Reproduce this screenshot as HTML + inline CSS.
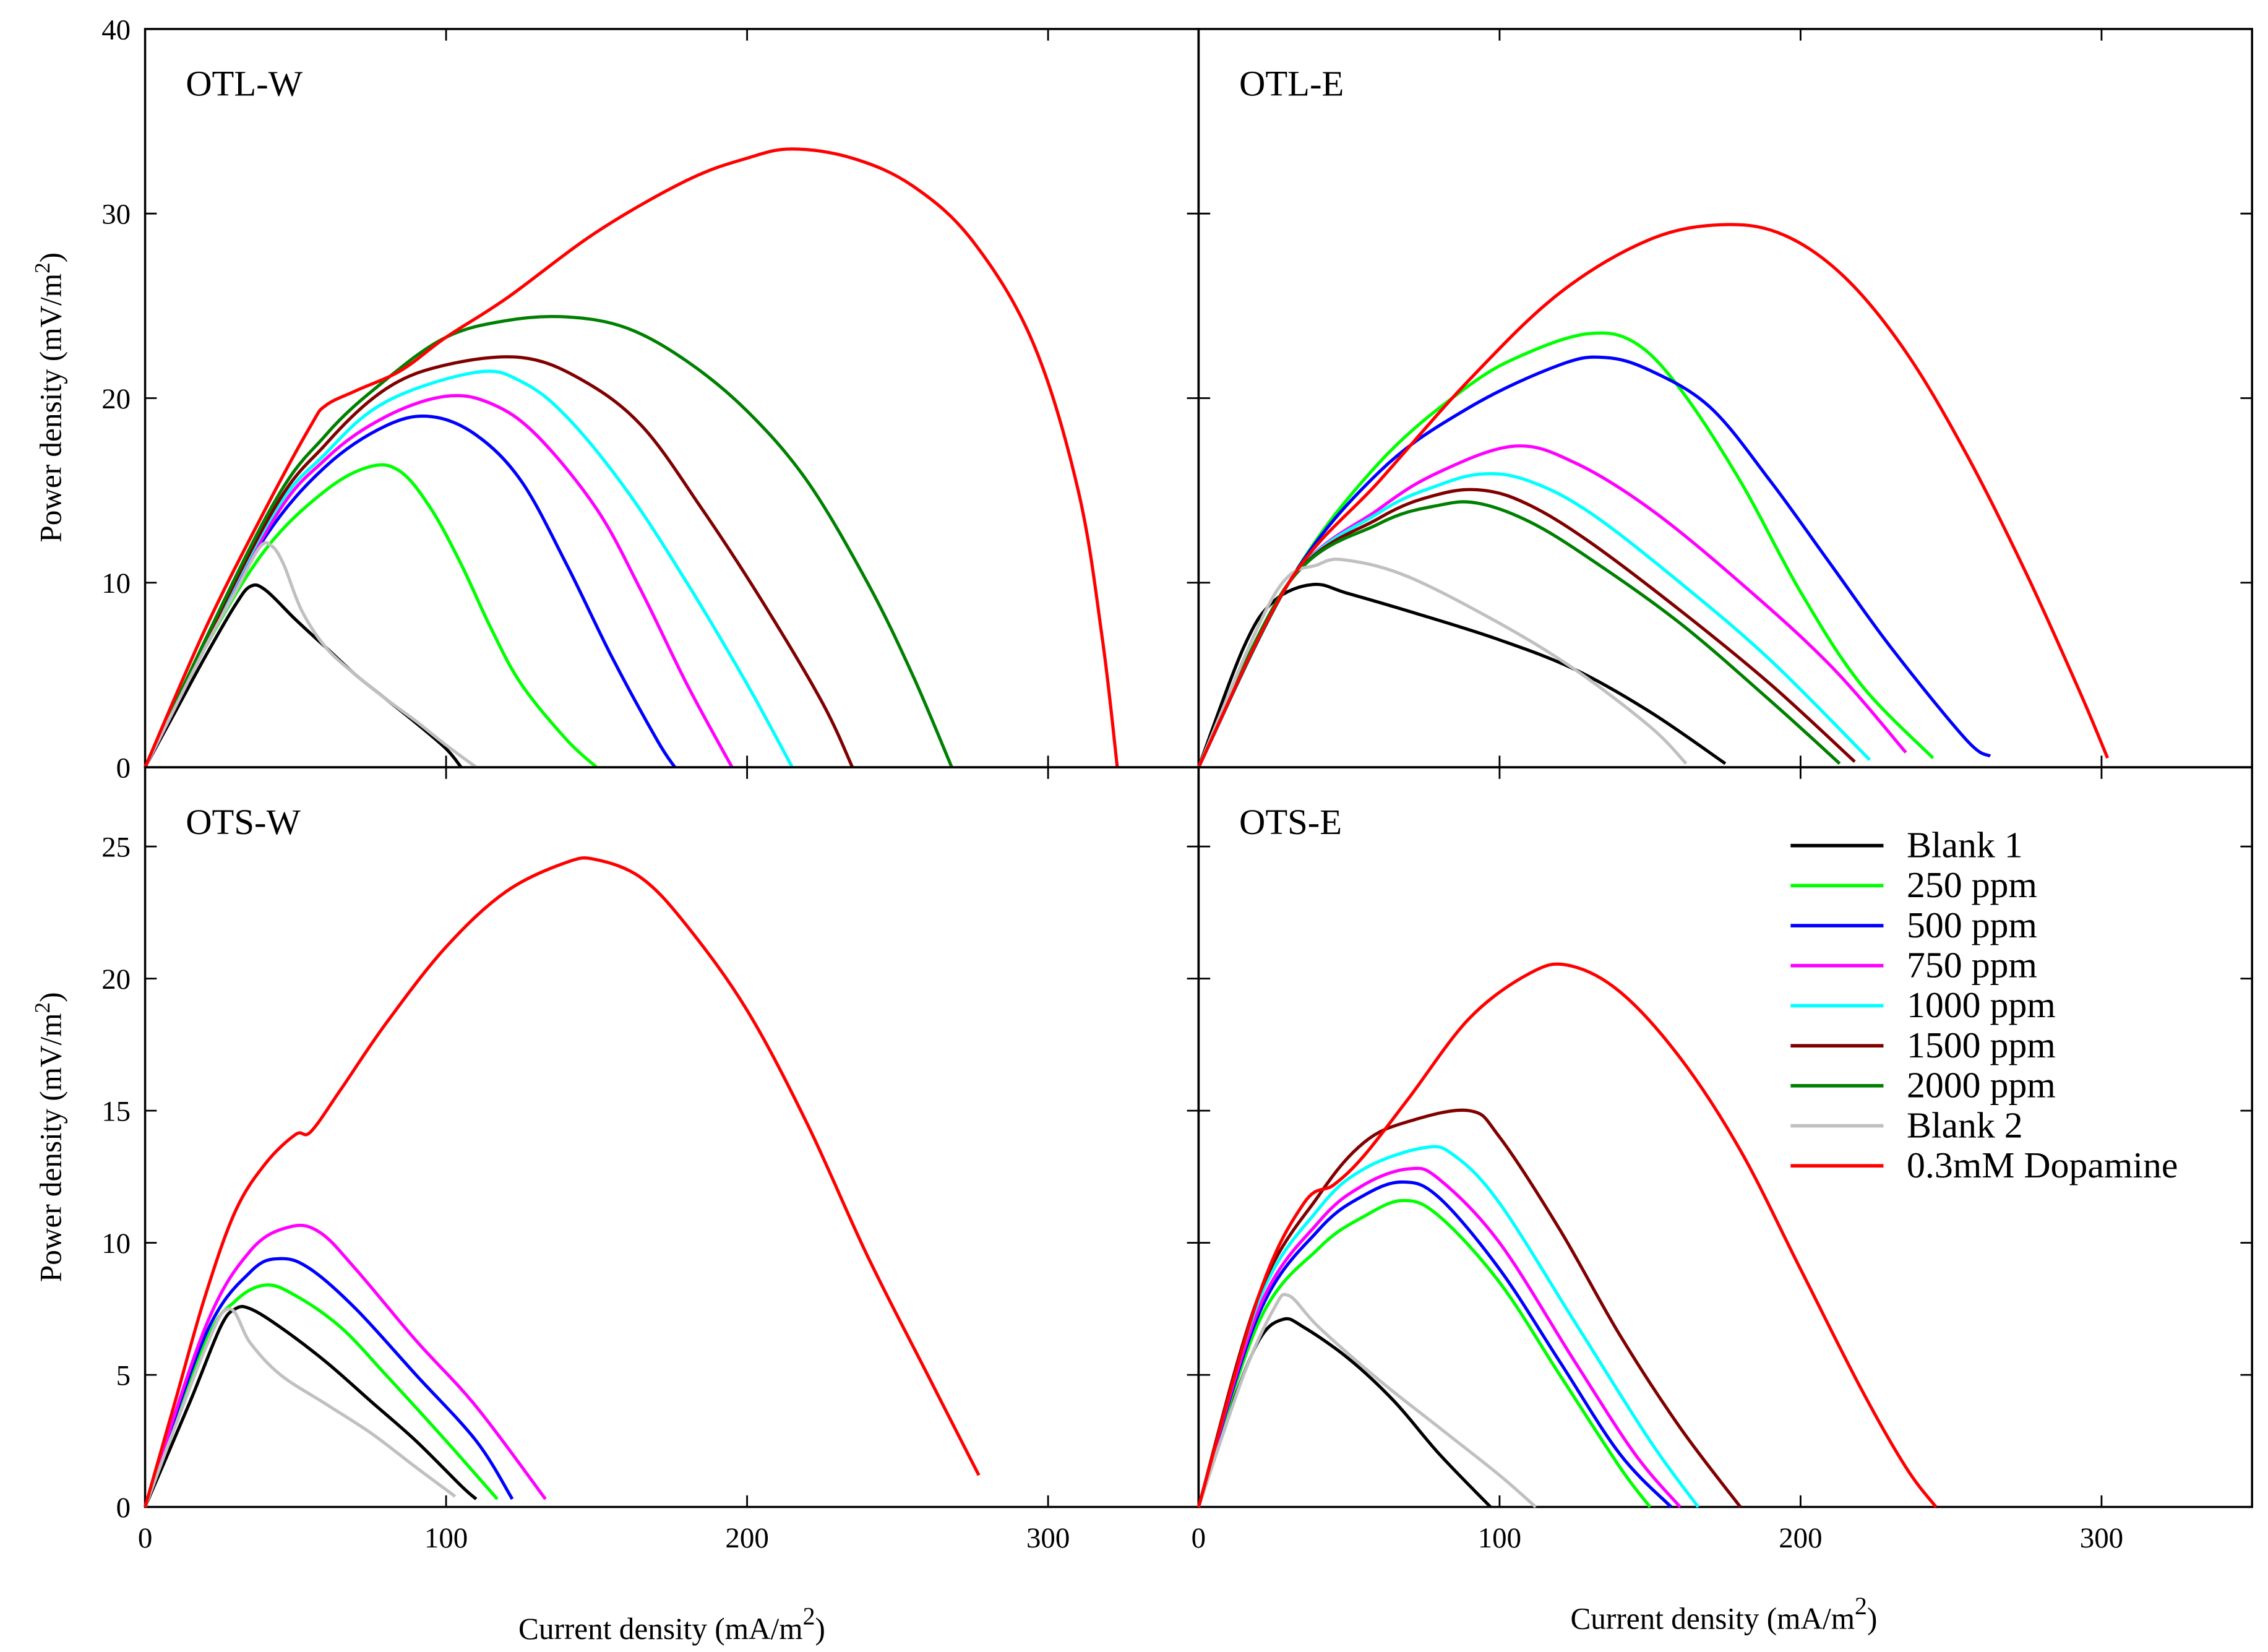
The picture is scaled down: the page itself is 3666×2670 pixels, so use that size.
<!DOCTYPE html>
<html><head><meta charset="utf-8">
<style>
html,body{margin:0;padding:0;background:#fff;}
svg{display:block;}
text{font-family:"Liberation Serif",serif;fill:#000;}
</style></head>
<body>
<svg id="chart" width="3666" height="2670" viewBox="0 0 1563 1139" preserveAspectRatio="none" xmlns="http://www.w3.org/2000/svg">
<rect x="0" y="0" width="1563" height="1139" fill="#fff"/>
<g id="marks"></g>
</svg>
<script>
// ---- data (current density mA/m2, power density mV/m2) ----
const seriesNames = ["Blank 1","250 ppm","500 ppm","750 ppm","1000 ppm","1500 ppm","2000 ppm","Blank 2","0.3mM Dopamine"];
const seriesColors = ["#000000","#00ff00","#0000ff","#ff00ff","#00ffff","#800000","#008000","#c0c0c0","#ff0000"];
const xTicks = [0,100,200,300];
const yTicksTop = [0,10,20,30,40];
const yTicksBottom = [0,5,10,15,20,25];

// OTL-W
const otlwBlank1X=[0,10,20,30,35,40,50,60,70,80,90,100,105];
const otlwBlank1Y=[0,3,6,8.8,9.8,9.6,8,6.5,5,3.7,2.4,1,0];
const otlwBlank2X=[0,20,30,38,42,46,52,60,70,80,90,100,110];
const otlwBlank2Y=[0,6.5,9.5,11.9,12,11,8.5,6.5,5,3.7,2.5,1.2,0];
const otlw250X=[0,20,40,60,75,85,95,105,115,125,140,150];
const otlw250Y=[0,6.5,11.8,15,16.3,16,14,11,7.5,4.5,1.5,0];
const otlw500X=[0,20,40,60,80,95,110,125,140,155,170,176];
const otlw500Y=[0,6.5,12.5,16.3,18.5,19,18,15.5,11,6,1.5,0];
const otlw750X=[0,40,60,80,100,115,130,150,165,180,195];
const otlw750Y=[0,12.7,16.7,19,20.1,19.7,18,14,9.5,4.5,0];
const otlw1000X=[0,40,60,80,110,125,140,160,180,200,215];
const otlw1000Y=[0,13,17,19.8,21.4,20.9,19,15,10,4.5,0];
const otlw1500X=[0,40,60,80,100,125,145,165,185,205,225,235];
const otlw1500Y=[0,13.2,17.5,20.5,21.8,22.2,21,18.5,14,9,3.5,0];
const otlw2000X=[0,40,60,80,100,120,140,160,180,200,220,240,255,268];
const otlw2000Y=[0,13.5,18,21,23.3,24.2,24.4,23.8,22,19.3,15.5,10,5,0];
const otlwDopX=[0,20,40,55,60,70,85,100,120,150,180,200,215,235,255,275,295,310,318,323];
const otlwDopY=[0,7.5,14,18.5,19.6,20.4,21.5,23.3,25.4,29,31.8,33,33.5,33,31.5,28.5,23,15,7,0];

// OTL-E
const otleBlank1X=[0,15,25,38,50,75,100,125,150,175];
const otleBlank1Y=[0,6.5,9,9.9,9.4,8.2,6.9,5.3,3,0.2];
const otleBlank2X=[0,25,40,50,70,100,125,150,162];
const otleBlank2Y=[0,9.3,11,11.2,10.3,7.8,5.3,2.2,0.2];
const otle250X=[0,30,60,90,110,130,145,160,180,200,220,244];
const otle250Y=[0,10,16.5,20.7,22.5,23.5,23,20.5,15.5,9.5,4.5,0.5];
const otle500X=[0,30,60,90,120,135,150,170,190,210,230,255,263];
const otle500Y=[0,10,16,19.5,21.8,22.2,21.5,19.5,15.5,11,6.5,1.5,0.6];
const otle750X=[0,30,60,80,105,125,150,180,210,235];
const otle750Y=[0,10,14,16,17.4,16.5,14,10,5.5,0.8];
const otle1000X=[0,30,60,80,95,110,130,160,190,223];
const otle1000Y=[0,10,13.8,15.3,15.9,15.5,13.8,10,5.8,0.4];
const otle1500X=[0,30,60,80,95,110,130,160,190,218];
const otle1500Y=[0,10,13.5,14.8,15,14.2,12.2,8.5,4.5,0.3];
const otle2000X=[0,30,60,80,93,110,130,160,190,213];
const otle2000Y=[0,10,13.2,14.2,14.3,13.3,11.3,7.8,3.6,0.2];
const otleDopX=[0,30,60,90,120,150,175,195,215,235,255,275,293,302];
const otleDopY=[0,10,15.5,21,25.7,28.6,29.4,28.8,26.5,22.5,17,10.5,4,0.5];

// OTS-W
const otswBlank1X=[0,15,25,30,35,45,60,75,90,105,110];
const otswBlank1Y=[0,4,6.8,7.5,7.5,6.8,5.5,4,2.5,0.8,0.3];
const otswBlank2X=[0,20,28,35,45,60,75,90,103];
const otswBlank2Y=[0,6,7.5,6.2,5,3.9,2.8,1.5,0.4];
const otsw250X=[0,20,30,40,50,65,80,100,117];
const otsw250Y=[0,6.2,7.8,8.4,8,6.8,5,2.5,0.3];
const otsw500X=[0,20,35,45,55,70,90,110,122];
const otsw500Y=[0,6.5,8.9,9.4,9,7.5,5,2.5,0.3];
const otsw750X=[0,20,35,48,58,70,90,110,133];
const otsw750Y=[0,6.8,9.7,10.6,10.4,9,6.3,3.8,0.3];
const otswDopX=[0,10,20,30,40,50,55,65,80,100,120,140,150,165,180,200,220,240,260,277];
const otswDopY=[0,4,8,11.2,13,14.1,14.2,15.8,18.3,21.2,23.3,24.4,24.5,23.8,22,18.8,14.5,9.5,5,1.2];

// OTS-E
const otseBlank1X=[0,10,20,28,35,50,65,80,97];
const otseBlank1Y=[0,3.5,6.3,7.1,6.8,5.6,4,2,0];
const otseBlank2X=[0,15,25,30,40,60,80,100,112];
const otseBlank2Y=[0,5,7.5,8,6.8,4.8,3,1.2,0];
const otse250X=[0,20,40,55,68,80,100,120,140,150];
const otse250Y=[0,7,9.8,11,11.6,11,8.5,5,1.5,0];
const otse500X=[0,20,40,55,68,80,100,120,140,157];
const otse500Y=[0,7.3,10.5,11.8,12.3,11.7,9,5.5,2,0];
const otse750X=[0,20,40,55,70,80,100,125,145,160];
const otse750Y=[0,7.5,10.8,12.2,12.8,12.4,10,5.5,2,0];
const otse1000X=[0,20,40,55,75,85,100,125,150,166];
const otse1000Y=[0,7.8,11.3,12.8,13.6,13.3,11.5,7,2.5,0];
const otse1500X=[0,20,40,55,70,90,100,120,140,160,180];
const otse1500Y=[0,8,11.8,13.8,14.6,15,14,10.5,6.5,3,0];
const otseDopX=[0,20,35,45,55,70,90,110,123,140,160,180,200,220,235,245];
const otseDopY=[0,8,11.5,12.2,13.3,15.5,18.5,20.2,20.5,19.5,17,13.5,9,4.5,1.5,0];

const NS="http://www.w3.org/2000/svg";
const root=document.getElementById('marks');
function mk(tag,attrs,parent){const e=document.createElementNS(NS,tag);for(const k in attrs)e.setAttribute(k,attrs[k]);(parent||root).appendChild(e);return e;}

function smoothPath(pts){
  if(pts.length<3){return pts.map((p,i)=>(i?'L':'M')+p[0].toFixed(2)+','+p[1].toFixed(2)).join('');}
  let d='M'+pts[0][0].toFixed(2)+','+pts[0][1].toFixed(2);
  const t=0.17;
  for(let i=0;i<pts.length-1;i++){
    const p0=pts[Math.max(0,i-1)],p1=pts[i],p2=pts[i+1],p3=pts[Math.min(pts.length-1,i+2)];
    const c1=[p1[0]+(p2[0]-p0[0])*t,p1[1]+(p2[1]-p0[1])*t];
    const c2=[p2[0]-(p3[0]-p1[0])*t,p2[1]-(p3[1]-p1[1])*t];
    d+='C'+c1[0].toFixed(2)+','+c1[1].toFixed(2)+' '+c2[0].toFixed(2)+','+c2[1].toFixed(2)+' '+p2[0].toFixed(2)+','+p2[1].toFixed(2);
  }
  return d;
}

const panels=[
 {id:'otl-w',label:'OTL-W',x0:100,x1:826,y0:20,y1:529,ymax:40,yt:yTicksTop,yLabels:true,xLabels:false,
  series:[[otlwBlank1X,otlwBlank1Y,0],[otlw250X,otlw250Y,1],[otlw500X,otlw500Y,2],[otlw750X,otlw750Y,3],[otlw1000X,otlw1000Y,4],[otlw1500X,otlw1500Y,5],[otlw2000X,otlw2000Y,6],[otlwBlank2X,otlwBlank2Y,7],[otlwDopX,otlwDopY,8]]},
 {id:'otl-e',label:'OTL-E',x0:826,x1:1552,y0:20,y1:529,ymax:40,yt:yTicksTop,yLabels:false,xLabels:false,
  series:[[otleBlank1X,otleBlank1Y,0],[otle250X,otle250Y,1],[otle500X,otle500Y,2],[otle750X,otle750Y,3],[otle1000X,otle1000Y,4],[otle1500X,otle1500Y,5],[otle2000X,otle2000Y,6],[otleBlank2X,otleBlank2Y,7],[otleDopX,otleDopY,8]]},
 {id:'ots-w',label:'OTS-W',x0:100,x1:826,y0:529,y1:1039,ymax:28,yt:yTicksBottom,yLabels:true,xLabels:true,
  series:[[otswBlank1X,otswBlank1Y,0],[otsw250X,otsw250Y,1],[otsw500X,otsw500Y,2],[otsw750X,otsw750Y,3],[otswBlank2X,otswBlank2Y,7],[otswDopX,otswDopY,8]]},
 {id:'ots-e',label:'OTS-E',x0:826,x1:1552,y0:529,y1:1039,ymax:28,yt:yTicksBottom,yLabels:false,xLabels:true,
  series:[[otseBlank1X,otseBlank1Y,0],[otse250X,otse250Y,1],[otse500X,otse500Y,2],[otse750X,otse750Y,3],[otse1000X,otse1000Y,4],[otse1500X,otse1500Y,5],[otseBlank2X,otseBlank2Y,7],[otseDopX,otseDopY,8]]}
];

panels.forEach(p=>{
  const g=mk('g',{});
  
  
  const sx=v=>p.x0+v*(p.x1-p.x0)/350;
  const sy=v=>p.y1-v*(p.y1-p.y0)/p.ymax;
  const fr=mk('rect',{x:p.x0,y:p.y0,width:p.x1-p.x0,height:p.y1-p.y0,fill:'none',stroke:'#000','stroke-width':1.5},g);
  
  
  p.yt.forEach(v=>{
    const y=sy(v);
    mk('line',{x1:p.x0,x2:p.x0+8,y1:y,y2:y,stroke:'#000','stroke-width':1.2},g);
    mk('line',{x1:p.x1,x2:p.x1-8,y1:y,y2:y,stroke:'#000','stroke-width':1.2},g);
    if(p.yLabels){
      const t=mk('text',{x:p.x0-10,y:y+7,'text-anchor':'end','font-size':20},g);
      t.textContent=v;
      
      
    }
  });
  xTicks.forEach(v=>{
    const x=sx(v);
    mk('line',{x1:x,x2:x,y1:p.y1,y2:p.y1-8,stroke:'#000','stroke-width':1.2},g);
    mk('line',{x1:x,x2:x,y1:p.y0,y2:p.y0+8,stroke:'#000','stroke-width':1.2},g);
    if(p.xLabels){
      const t=mk('text',{x:x,y:p.y1+28,'text-anchor':'middle','font-size':20},g);
      t.textContent=v;
      
      
    }
  });
  const lab=mk('text',{x:p.x0+28,y:p.y0+46,'font-size':25},g);
  lab.textContent=p.label;
  
  
  p.series.forEach(s=>{
    const xs=s[0],ys=s[1],ci=s[2];
    const pts=xs.map((v,i)=>[sx(v),sy(ys[i])]);
    const path=mk('path',{d:smoothPath(pts),fill:'none',stroke:seriesColors[ci],'stroke-width':2.2,'stroke-linejoin':'round'},g);
    
    
  });
});

// axis titles
function yTitle(cy,name){
  const t=mk('text',{x:0,y:0,'text-anchor':'middle','font-size':21,transform:'translate(42,'+cy+') rotate(-90)'});
  t.innerHTML='Power density (mV/m<tspan dy="-8" font-size="15">2</tspan><tspan dy="8">)</tspan>';
  
  
}
yTitle(274,'y-axis-title-top');
yTitle(784,'y-axis-title-bottom');
function xTitle(cx,cy,name){
  const t=mk('text',{x:cx,y:cy,'text-anchor':'middle','font-size':21});
  t.innerHTML='Current density (mA/m<tspan dy="-10" font-size="17">2</tspan><tspan dy="10">)</tspan>';
  
  
}
xTitle(463,1130,'x-axis-title-left');
xTitle(1188,1123,'x-axis-title-right');

// legend
const lg=mk('g',{});


seriesNames.forEach((n,i)=>{
  const y=583+i*27.6;
  const ln=mk('line',{x1:1234,x2:1298,y1:y,y2:y,stroke:seriesColors[i],'stroke-width':2.4},lg);
  
  
  const t=mk('text',{x:1314,y:y+8,'font-size':25.5},lg);
  t.textContent=n;
  
  
});
</script>
</body></html>
